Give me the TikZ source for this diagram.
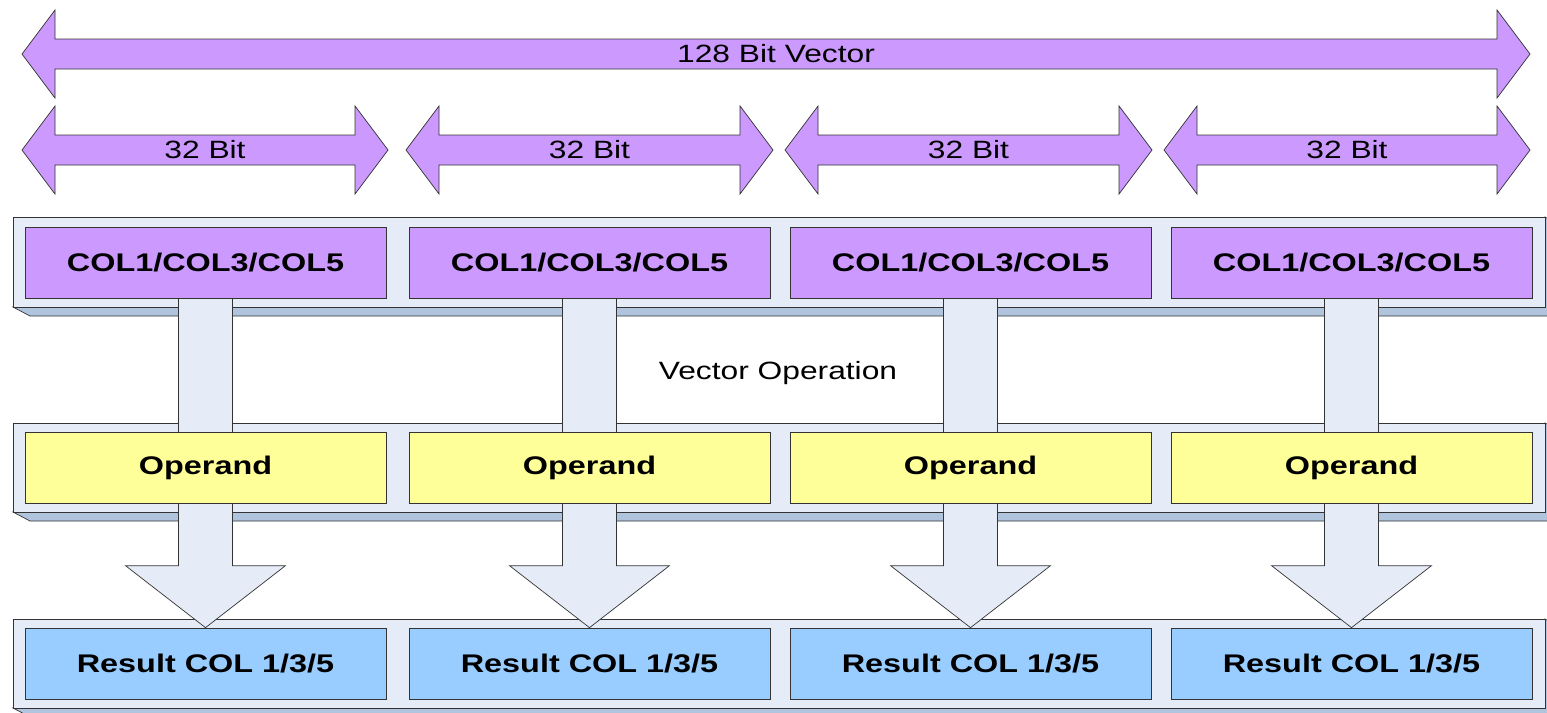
\documentclass[tikz,border=0pt]{standalone}
\usepackage{fontspec}
\setmainfont{Liberation Sans}
\newfontfamily\lab[FakeStretch=1.27]{Liberation Sans}
\usetikzlibrary{calc,backgrounds}
\definecolor{lilac}{HTML}{CC99FF}
\definecolor{lemon}{HTML}{FFFF99}
\definecolor{sky}{HTML}{99CCFF}
\definecolor{deckface}{HTML}{E6ECF7}
\definecolor{deckside}{HTML}{B0C4DE}
\definecolor{edge}{HTML}{333333}

% double-headed span arrow: #1 left tip x, #2 right tip x, #3 centre y
\newcommand{\spanarrow}[3]{%
  \draw[span] (#1,#3) -- (#1+33,#3-44) -- (#1+33,#3-15) -- (#2-33,#3-15)
    -- (#2-33,#3-44) -- (#2,#3) -- (#2-33,#3+44) -- (#2-33,#3+15)
    -- (#1+33,#3+15) -- (#1+33,#3+44) -- cycle;}

% raised deck: #1 top y, #2 bottom y of the front face
\newcommand{\deck}[2]{%
  \draw[deckedge,fill=deckside] (13,#2) -- (30,#2+9) -- (1562,#2+9)
    -- (1562,#1+9) -- (1545,#1) -- (1545,#2) -- cycle;
  \draw[deckedge,fill=deckface] (13,#1) rectangle (1545,#2);}

\begin{document}
\begin{tikzpicture}[x=1pt,y=-1pt,
  span/.style={fill=lilac,draw=edge,line width=0.7pt},
  spanlabel/.style={font=\lab\fontsize{25}{28}\selectfont,inner sep=0pt},
  deckedge/.style={draw=edge,line width=0.7pt},
  cell/.style={draw=edge,line width=0.7pt,minimum width=361pt,minimum height=71pt,
    inner sep=0pt,font=\lab\bfseries\fontsize{25.5}{28}\selectfont},
  colcell/.style={cell,fill=lilac},
  opcell/.style={cell,fill=lemon},
  rescell/.style={cell,fill=sky},
  flow/.style={fill=deckface,draw=edge,line width=0.7pt}]
\useasboundingbox (0,0) rectangle (1547,712);
\clip (0,0) rectangle (1547,712);

% width arrows
\spanarrow{22}{1530}{54}
\node[spanlabel] (vec) at (776,54) {128 Bit Vector};
\foreach \i/\l/\r in {1/22/388,2/406/773,3/785/1152,4/1164/1530}{
  \spanarrow{\l}{\r}{150}
  \node[spanlabel] (bit\i) at ({(\l+\r)/2},150) {32 Bit};
}

% cells
\foreach \i/\cx in {1/205.5,2/589.5,3/970.5,4/1351.5}{
  \node[colcell] (c\i) at (\cx,262.5) {COL1/COL3/COL5};
  \node[opcell]  (o\i) at (\cx,467.5) {Operand};
  \node[rescell] (r\i) at (\cx,663.5) {Result COL 1/3/5};
}
\node[spanlabel] (op) at (778,373) {Vector Operation};

\begin{scope}[on background layer]
  \deck{217}{307}
  \deck{423}{512}
  \deck{619}{708}
  \foreach \i in {1,2,3,4}{
    \draw[flow] ($(c\i.south)+(-27,-4)$) -- ($(r\i.north)+(-27,-62)$)
      -- ($(r\i.north)+(-80,-62)$) -- (r\i.north) -- ($(r\i.north)+(80,-62)$)
      -- ($(r\i.north)+(27,-62)$) -- ($(c\i.south)+(27,-4)$) -- cycle;
  }
\end{scope}
\end{tikzpicture}
\end{document}
